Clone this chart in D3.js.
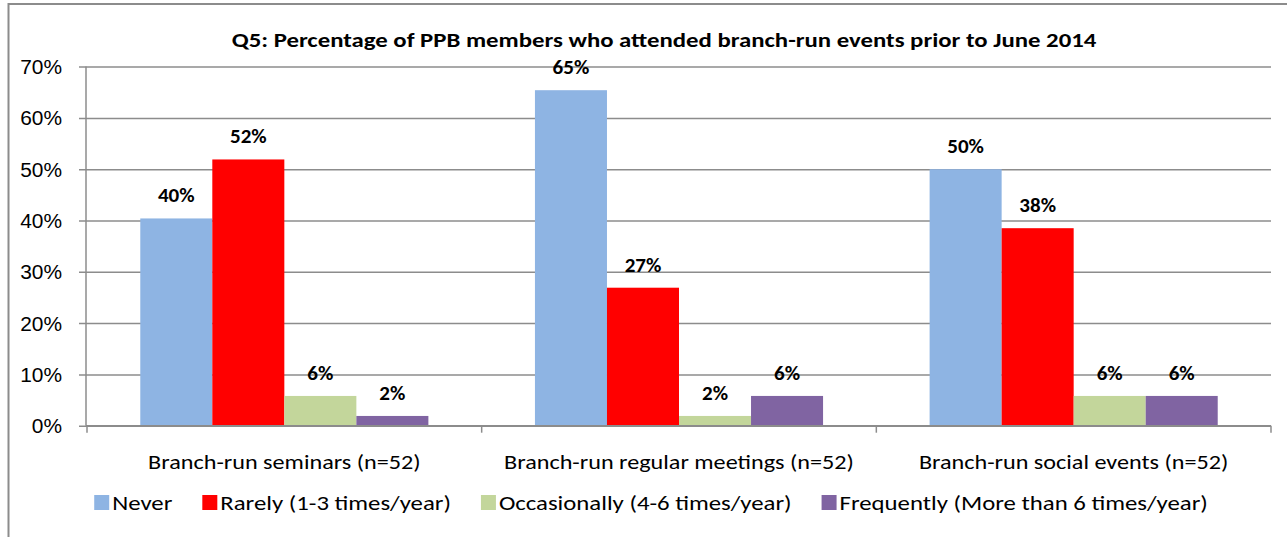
<!DOCTYPE html>
<html>
<head>
<meta charset="utf-8">
<script src="https://cdn.jsdelivr.net/npm/d3@7"></script>
<style>
  body { margin: 0; background: #fff; }
  svg { display: block; font-family: Carlito, Lato, sans-serif; }
</style>
</head>
<body>
<svg></svg>
<script>
const width = 1287;
const height = 537;

const categories = ["Branch-run seminars (n=52)", "Branch-run regular meetings (n=52)", "Branch-run social events (n=52)"];
const series = ["Never", "Rarely (1-3 times/year)", "Occasionally (4-6 times/year)", "Frequently (More than 6 times/year)"];
const colors = ["#8eb4e3", "#ff0000", "#c3d69b", "#8064a2"];

// percent values per series, one per category
const never = [40.4, 65.4, 50.0];
const rarely = [51.9, 26.9, 38.5];
const occasionally = [5.8, 1.9, 5.8];
const frequently = [1.9, 5.8, 5.8];
const labels = [["40%", "65%", "50%"], ["52%", "27%", "38%"], ["6%", "2%", "6%"], ["2%", "6%", "6%"]];
const yTicks = [0, 10, 20, 30, 40, 50, 60, 70];

const values = [never, rarely, occasionally, frequently];

const plotLeft = 87, plotRight = 1271, plotTop = 66.6, plotBottom = 425.7;
const grey = "#8c8c8c";
const sx = 1.18; // the original text is a bit wide

// place a text at (x, y) with the horizontal stretch
function place(sel, x, y, k = sx) {
  sel.attr("x", null).attr("y", null)
    .attr("transform", (d, i) => `translate(${typeof x === "function" ? x(d, i) : x},${typeof y === "function" ? y(d, i) : y}) scale(${k},1)`);
}

const svg = d3.select("svg")
  .attr("width", width)
  .attr("height", height);

// outer chart border (top and left edges visible)
svg.append("path")
  .attr("d", `M8.5,${height} V4 H${width}`)
  .attr("fill", "none")
  .attr("stroke", grey)
  .attr("stroke-width", 2);

svg.append("text")
  .attr("text-anchor", "middle")
  .style("font-weight", "bold")
  .style("font-size", "21px")
  .text("Q5: Percentage of PPB members who attended branch-run  events prior to June  2014")
  .call(place, 664, 47);

const x0 = d3.scaleBand()
  .domain(categories)
  .range([plotLeft, plotRight]);

const gap = x0.bandwidth() * 0.135;
const x1 = d3.scaleBand()
  .domain(series)
  .range([gap, x0.bandwidth() - gap]);

const y = d3.scaleLinear()
  .domain([0, 70])
  .range([plotBottom, plotTop]);

// gridlines + y labels
const yAxis = svg.append("g")
  .attr("transform", `translate(${plotLeft - 1}, 0)`)
  .call(d3.axisLeft(y)
    .tickValues(yTicks)
    .tickSize(-(plotRight - plotLeft + 1))
    .tickFormat(d => d + "%"));

yAxis.select(".domain").remove();
yAxis.selectAll(".tick line")
  .attr("x1", -7)
  .attr("stroke", grey)
  .attr("stroke-width", 1.5);
yAxis.selectAll(".tick text")
  .attr("fill", "#000")
  .attr("dy", null)
  .style("font-size", "20.5px")
  .call(place, -24, 7, 1.02);

svg.append("line")
  .attr("x1", plotLeft - 1).attr("x2", plotLeft - 1)
  .attr("y1", plotTop).attr("y2", plotBottom)
  .attr("stroke", grey)
  .attr("stroke-width", 1.5);

// bars
const groups = svg.append("g")
  .selectAll("g")
  .data(series)
  .join("g")
    .attr("fill", (d, i) => colors[i]);

groups.selectAll("rect")
  .data((s, i) => categories.map((c, j) => ({ c, s, v: values[i][j] })))
  .join("rect")
    .attr("x", d => x0(d.c) + x1(d.s))
    .attr("y", d => y(d.v))
    .attr("width", x1.bandwidth())
    .attr("height", d => plotBottom - y(d.v));

groups.selectAll("text")
  .data((s, i) => categories.map((c, j) => ({ c, s, v: values[i][j], t: labels[i][j] })))
  .join("text")
    .attr("text-anchor", "middle")
    .attr("fill", "#000")
    .style("font-weight", "bold")
    .style("font-size", "19.5px")
    .text(d => d.t)
    .call(place, d => x0(d.c) + x1(d.s) + x1.bandwidth() / 2, d => y(d.v) - 16, 1.08);

// x axis
const xAxis = svg.append("g")
  .attr("transform", `translate(0, ${plotBottom})`);

xAxis.append("line")
  .attr("x1", plotLeft - 1).attr("x2", plotRight)
  .attr("stroke", grey)
  .attr("stroke-width", 1.5);

xAxis.selectAll(".sep")
  .data(categories.map(c => x0(c)).concat([plotRight]))
  .join("line")
    .attr("class", "sep")
    .attr("x1", d => d).attr("x2", d => d)
    .attr("y1", 0).attr("y2", 7)
    .attr("stroke", grey)
    .attr("stroke-width", 1.5);

xAxis.selectAll(".cat")
  .data(categories)
  .join("text")
    .attr("class", "cat")
    .attr("text-anchor", "middle")
    .style("font-size", "20.5px")
    .text(d => d)
    .call(place, d => x0(d) + x0.bandwidth() / 2, 43);

// legend
const legend = svg.append("g")
  .attr("transform", "translate(0, 503)");

const items = legend.selectAll("g")
  .data(series)
  .join("g");

items.append("rect")
  .attr("y", -8)
  .attr("width", 15)
  .attr("height", 15)
  .attr("fill", (d, i) => colors[i]);

items.append("text")
  .style("font-size", "21px")
  .text(d => d)
  .call(place, 18, 7);

let pos = 0;
const offsets = [];
items.each(function() {
  offsets.push(pos);
  pos += 18 + d3.select(this).select("text").node().getComputedTextLength() * sx + 30;
});
const total = pos - 30;
const start = 651 - total / 2;
items.attr("transform", (d, i) => `translate(${start + offsets[i]}, 0)`);
</script>
</body>
</html>
